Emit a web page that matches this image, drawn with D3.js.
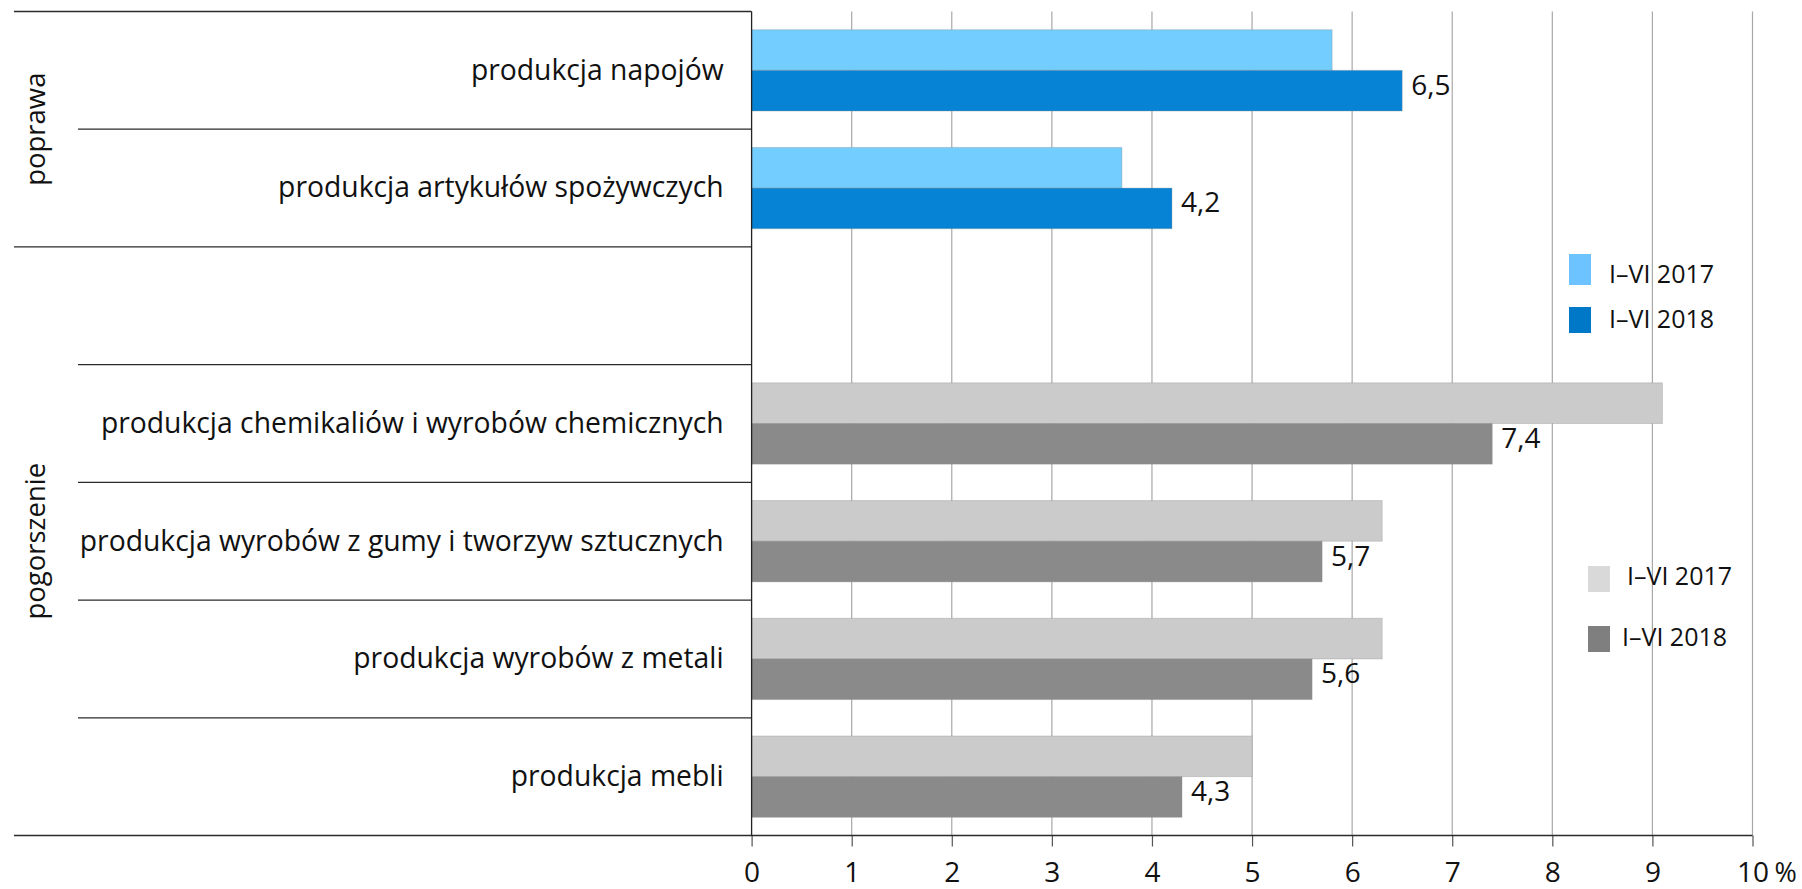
<!DOCTYPE html>
<html>
<head>
<meta charset="utf-8">
<script src="https://cdn.jsdelivr.net/npm/d3@7"></script>
<style>
  html, body { margin: 0; padding: 0; background: #ffffff; }
  svg { display: block; }
  text { font-family: "Open Sans", "Noto Sans", sans-serif; fill: #111; }
</style>
</head>
<body>
<svg id="chart" width="1802" height="889"></svg>
<script>
// ---- data ----
const categories = [
  "produkcja napojów",
  "produkcja artykułów spożywczych",
  "",
  "produkcja chemikaliów i wyrobów chemicznych",
  "produkcja wyrobów z gumy i tworzyw sztucznych",
  "produkcja wyrobów z metali",
  "produkcja mebli"
];
const values2017 = [5.8, 3.7, null, 9.1, 6.3, 6.3, 5.0];
const values2018 = [6.5, 4.2, null, 7.4, 5.7, 5.6, 4.3];
const rowGroup = [0, 0, 1, 1, 1, 1, 1];
const groupNames = ["poprawa", "pogorszenie"];
const seriesNames = ["I–VI 2017", "I–VI 2018"];
const groupColors = [["#73cdff", "#0783d5"], ["#cbcbcb", "#8a8a8a"]];
const legendColors = [["#6cc3ff", "#0078c8"], ["#d9d9d9", "#7f7f7f"]];
const tickValues = [0, 1, 2, 3, 4, 5, 6, 7, 8, 9, 10];
const tickLabels = ["0", "1", "2", "3", "4", "5", "6", "7", "8", "9", "10"];
const unitLabel = "%";

(function () {
// ---- layout ----
const svg = d3.select("#chart");
const mLeft = 751.6, mRight = 1752.5, mTop = 11.5, mBottom = 835.5;
const lineStart = 14, innerLineStart = 78;

const x = d3.scaleLinear().domain([0, 10]).range([mLeft, mRight]);
const y = d3.scaleBand().domain(d3.range(categories.length)).range([mTop, mBottom]).padding(0);
const ySub = d3.scaleBand().domain([0, 1]).range([0, y.bandwidth()]).paddingInner(0).paddingOuter(0.448);

const fmt = v => d3.format(".1f")(v).replace(".", ",");

// gridlines
svg.append("g").selectAll("line")
  .data(tickValues.filter(d => d > 0))
  .join("line")
  .attr("x1", d => x(d)).attr("x2", d => x(d))
  .attr("y1", mTop).attr("y2", mBottom)
  .attr("stroke", "#a8a8a8").attr("stroke-width", 1.2);

// x axis (ticks below)
const xAxis = d3.axisBottom(x)
  .tickValues(tickValues)
  .tickFormat((d, i) => tickLabels[i])
  .tickSize(11)
  .tickPadding(16);
const gx = svg.append("g").attr("transform", `translate(0,${mBottom})`).call(xAxis);
gx.select(".domain").remove();
gx.selectAll(".tick line").attr("stroke", "#555").attr("stroke-width", 1.2);
gx.selectAll(".tick text")
  .attr("font-family", "Open Sans, sans-serif")
  .attr("font-size", 28)
  .attr("fill", "#111");
svg.append("text")
  .attr("x", x(10) + 22).attr("y", mBottom + 11 + 16 + 19)
  .attr("font-size", 27)
  .text(unitLabel);

// bars
categories.forEach((c, i) => {
  if (values2017[i] == null) return;
  const cols = groupColors[rowGroup[i]];
  [values2017[i], values2018[i]].forEach((v, s) => {
    svg.append("rect")
      .attr("x", x(0))
      .attr("y", y(i) + ySub(s))
      .attr("width", x(v) - x(0))
      .attr("height", ySub.bandwidth())
      .attr("fill", cols[s])
      .attr("stroke", "rgba(140,140,140,0.35)")
      .attr("stroke-width", 1);
  });
  svg.append("text")
    .attr("x", x(values2018[i]) + 9)
    .attr("y", y(i) + ySub(1) + ySub.bandwidth() / 2 - 6)
    .attr("dy", "0.36em")
    .attr("font-size", 28)
    .text(fmt(values2018[i]));
  svg.append("text")
    .attr("x", mLeft - 28)
    .attr("y", y(i) + y.bandwidth() / 2)
    .attr("dy", "0.33em")
    .attr("text-anchor", "end")
    .attr("font-size", 28.3)
    .text(c);
});

// separator lines
d3.range(categories.length + 1).forEach(k => {
  const yy = k < categories.length ? y(k) : mBottom;
  const isGroupEdge = k === 0 || k === categories.length || rowGroup[k] !== rowGroup[k - 1];
  svg.append("line")
    .attr("x1", isGroupEdge ? lineStart : innerLineStart)
    .attr("x2", k === categories.length ? mRight : mLeft)
    .attr("y1", yy).attr("y2", yy)
    .attr("stroke", "#2a2a2a").attr("stroke-width", 1.3);
});

// left axis line
svg.append("line")
  .attr("x1", mLeft).attr("x2", mLeft)
  .attr("y1", mTop).attr("y2", mBottom)
  .attr("stroke", "#222").attr("stroke-width", 1.3);

// group labels (vertical)
groupNames.forEach((g, gi) => {
  const rows = d3.range(categories.length).filter(i => rowGroup[i] === gi);
  const y0 = y(rows[0]);
  const y1 = y(rows[rows.length - 1]) + y.bandwidth();
  svg.append("text")
    .attr("transform", `translate(45,${(y0 + y1) / 2}) rotate(-90)`)
    .attr("text-anchor", "middle")
    .attr("font-size", 27.5)
    .text(g);
});

// legends
const legendDefs = [
  { colors: legendColors[0], rx: 1569, ry: [254, 307], rw: 22, rh: [31, 26], tx: [1609, 1609], ty: [283, 328] },
  { colors: legendColors[1], rx: 1588, ry: [566, 626], rw: 22, rh: [26, 26], tx: [1627, 1622], ty: [585, 646] }
];
legendDefs.forEach(L => {
  seriesNames.forEach((name, s) => {
    svg.append("rect")
      .attr("x", L.rx).attr("y", L.ry[s])
      .attr("width", L.rw).attr("height", L.rh[s])
      .attr("fill", L.colors[s]);
    svg.append("text")
      .attr("x", L.tx[s]).attr("y", L.ty[s])
      .attr("font-size", 25)
      .text(name);
  });
});
})();
</script>
</body>
</html>
